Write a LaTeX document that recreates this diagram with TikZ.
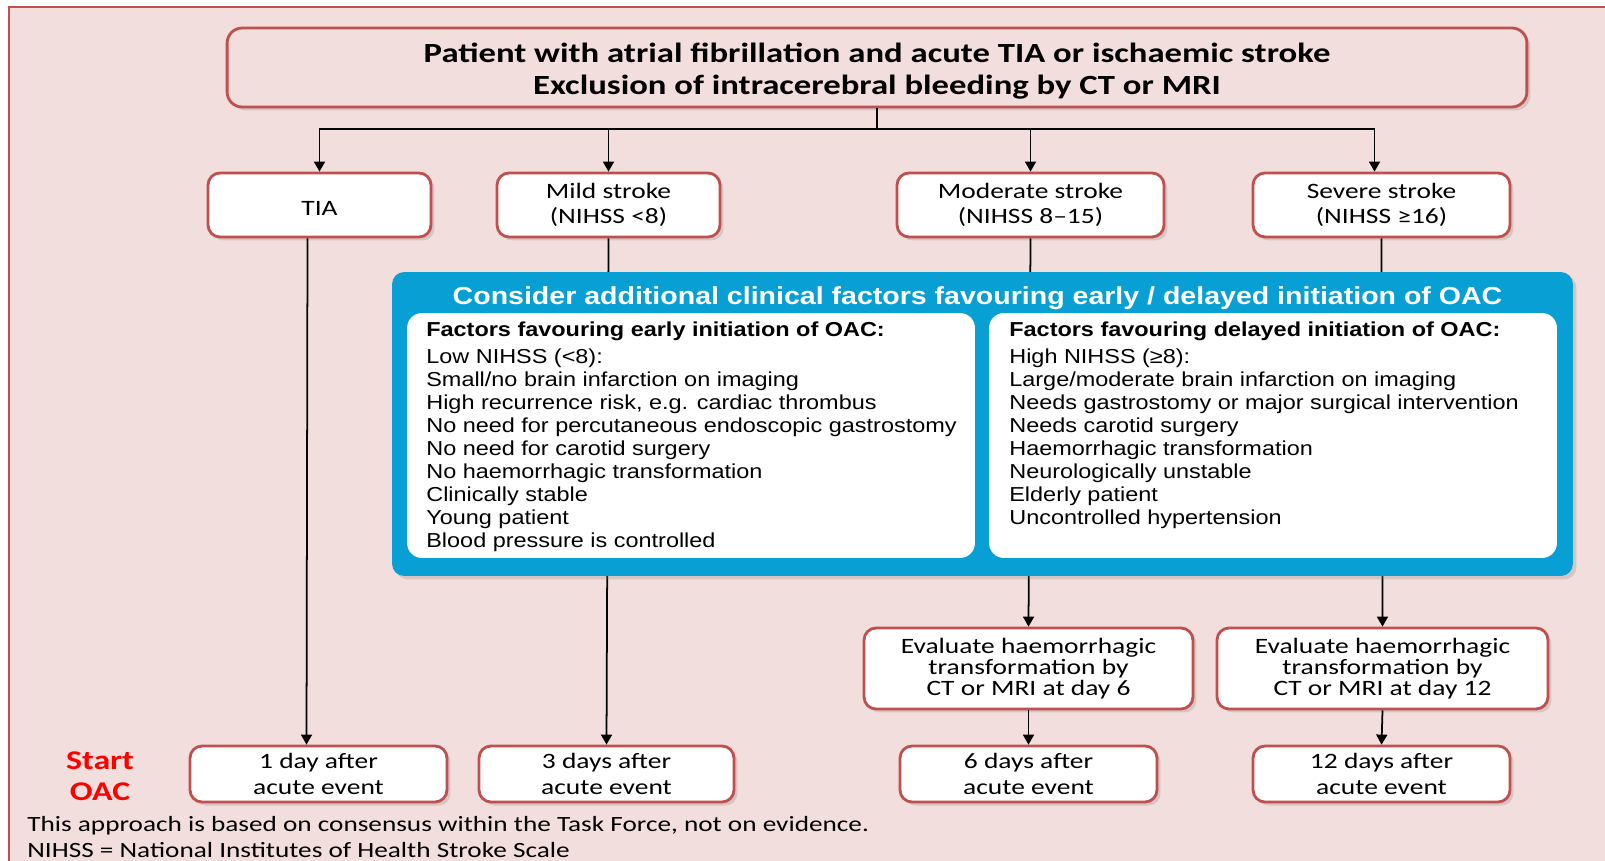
\documentclass[tikz,border=0pt]{standalone}
\usepackage{fontspec}
\setmainfont{Liberation Sans}[FakeStretch=1.16]
\newfontfamily\calfont{Carlito}[FakeStretch=1.25]
\usetikzlibrary{arrows.meta,shadows}
\definecolor{bgpink}{RGB}{242,222,220}
\definecolor{boxred}{RGB}{192,80,77}
\definecolor{panelblue}{RGB}{8,160,212}
\tikzset{
  rbox/.style={draw=boxred, line width=1.6pt, fill=white, rounded corners=0.24cm,
    drop shadow={shadow xshift=0.07cm, shadow yshift=-0.07cm, opacity=0.25},
    align=center, inner sep=0pt, font=\calfont\fontsize{12.5}{14.6}\selectfont,
    execute at begin node=\rule{0pt}{12pt}},
  evalbox/.style={rbox, font=\calfont\fontsize{12.5}{11.8}\selectfont},
  factbox/.style={fill=white, rounded corners=0.3cm, inner sep=0pt,
    minimum width=11.36cm, minimum height=4.9cm},
  facttxt/.style={anchor=north west, align=left, inner sep=0pt,
    font=\fontsize{11.5}{13.1}\selectfont},
  arr/.style={-{Triangle[width=0.22cm,length=0.2cm]}, line width=1pt},
  link/.style={line width=1pt}
}
\begin{document}
\begin{tikzpicture}[x=0.02cm,y=-0.02cm]
    \useasboundingbox (0,0) rectangle (1605,861);
    % frame
    \fill[bgpink] (9,7) rectangle (1605,861);
    \draw[boxred, line width=1.2pt] (1605,7) -- (9,7) -- (9,861);
    % top box
    \node[rbox, fill=bgpink, rounded corners=0.3cm, minimum width=26cm, minimum height=1.58cm,
      font=\calfont\bfseries\fontsize{15.8}{18.2}\selectfont] (top) at (877,67.5)
      {\rule{0pt}{15pt}Patient with atrial fibrillation and acute TIA or ischaemic stroke\\
       Exclusion of intracerebral bleeding by CT or MRI};
    % stroke categories
    \node[rbox, minimum width=4.46cm, minimum height=1.28cm] (tia) at (319.5,205) {TIA};
    \node[rbox, minimum width=4.46cm, minimum height=1.28cm] (mild) at (608.5,205) {Mild stroke\\(NIHSS <8)};
    \node[rbox, minimum width=5.34cm, minimum height=1.28cm] (moderate) at (1030.5,205) {Moderate stroke\\(NIHSS 8–15)};
    \node[rbox, minimum width=5.14cm, minimum height=1.28cm] (severe) at (1381.5,205) {Severe stroke\\(NIHSS ≥16)};
    % evaluation boxes
    \node[evalbox, minimum width=6.58cm, minimum height=1.62cm] (eval6) at (1028.5,668.5)
      {Evaluate haemorrhagic\\transformation by\\CT or MRI at day 6};
    \node[evalbox, minimum width=6.62cm, minimum height=1.62cm] (eval12) at (1382.5,668.5)
      {Evaluate haemorrhagic\\transformation by\\CT or MRI at day 12};
    % start of OAC
    \node[rbox, minimum width=5.14cm, minimum height=1.12cm] (day1) at (318.5,774) {1 day after\\acute event};
    \node[rbox, minimum width=5.10cm, minimum height=1.12cm] (day3) at (606.5,774) {3 days after\\acute event};
    \node[rbox, minimum width=5.14cm, minimum height=1.12cm] (day6) at (1028.5,774) {6 days after\\acute event};
    \node[rbox, minimum width=5.14cm, minimum height=1.12cm] (day12) at (1381.5,774) {12 days after\\acute event};
    \node[text=red, align=center, font=\calfont\bfseries\fontsize{15.4}{17.5}\selectfont] (start) at (100,776) {Start\\OAC};
    % connectors
    \coordinate (split) at (877,129);
    \draw[link] (top.south) -- (split);
    \draw[arr] (split) -| (tia.north);
    \draw[arr] (split) -| (mild.north);
    \draw[arr] (split) -| (moderate.north);
    \draw[arr] (split) -| ([xshift=-0.14cm]severe.north);
    \draw[arr] ([xshift=-0.24cm]tia.south) -- ([xshift=-0.24cm]day1.north);
    \draw[arr] (mild.south) -- (day3.north);
    \draw[arr] (moderate.south) -- (eval6.north);
    \draw[arr] (severe.south) -- (eval12.north);
    \draw[arr] (eval6.south) -- (day6.north);
    \draw[arr] (eval12.south) -- (day12.north);
    % clinical factors panel
    \node[fill=panelblue, rounded corners=0.24cm, minimum width=23.62cm, minimum height=6.08cm,
      drop shadow={shadow xshift=0.07cm, shadow yshift=-0.07cm, opacity=0.25}] (panel) at (982.5,424) {};
    \node[text=white, font=\bfseries\fontsize{14}{16}\selectfont] (paneltitle) at (977.5,298)
      {Consider additional clinical factors favouring early / delayed initiation of OAC};
    \node[factbox] (early) at (691,435.5) {};
    \node[factbox] (delayed) at (1273,435.5) {};
    \node[facttxt] (earlytxt) at (426,322) {\textbf{Factors favouring early initiation of OAC:}\\[2pt]
      Low NIHSS (<8):\\
      Small/no brain infarction on imaging\\
      High recurrence risk, e.g. cardiac thrombus\\
      No need for percutaneous endoscopic gastrostomy\\
      No need for carotid surgery\\
      No haemorrhagic transformation\\
      Clinically stable\\
      Young patient\\
      Blood pressure is controlled};
    \node[facttxt] (delayedtxt) at (1009,322) {\textbf{Factors favouring delayed initiation of OAC:}\\[2pt]
      High NIHSS (≥8):\\
      Large/moderate brain infarction on imaging\\
      Needs gastrostomy or major surgical intervention\\
      Needs carotid surgery\\
      Haemorrhagic transformation\\
      Neurologically unstable\\
      Elderly patient\\
      Uncontrolled hypertension};
    % footnote
    \node[anchor=north west, align=left, inner sep=0pt, font=\calfont\fontsize{12.4}{14.6}\selectfont] (note) at (27,816)
      {This approach is based on consensus within the Task Force, not on evidence.\\
       NIHSS = National Institutes of Health Stroke Scale};
\end{tikzpicture}
\end{document}
